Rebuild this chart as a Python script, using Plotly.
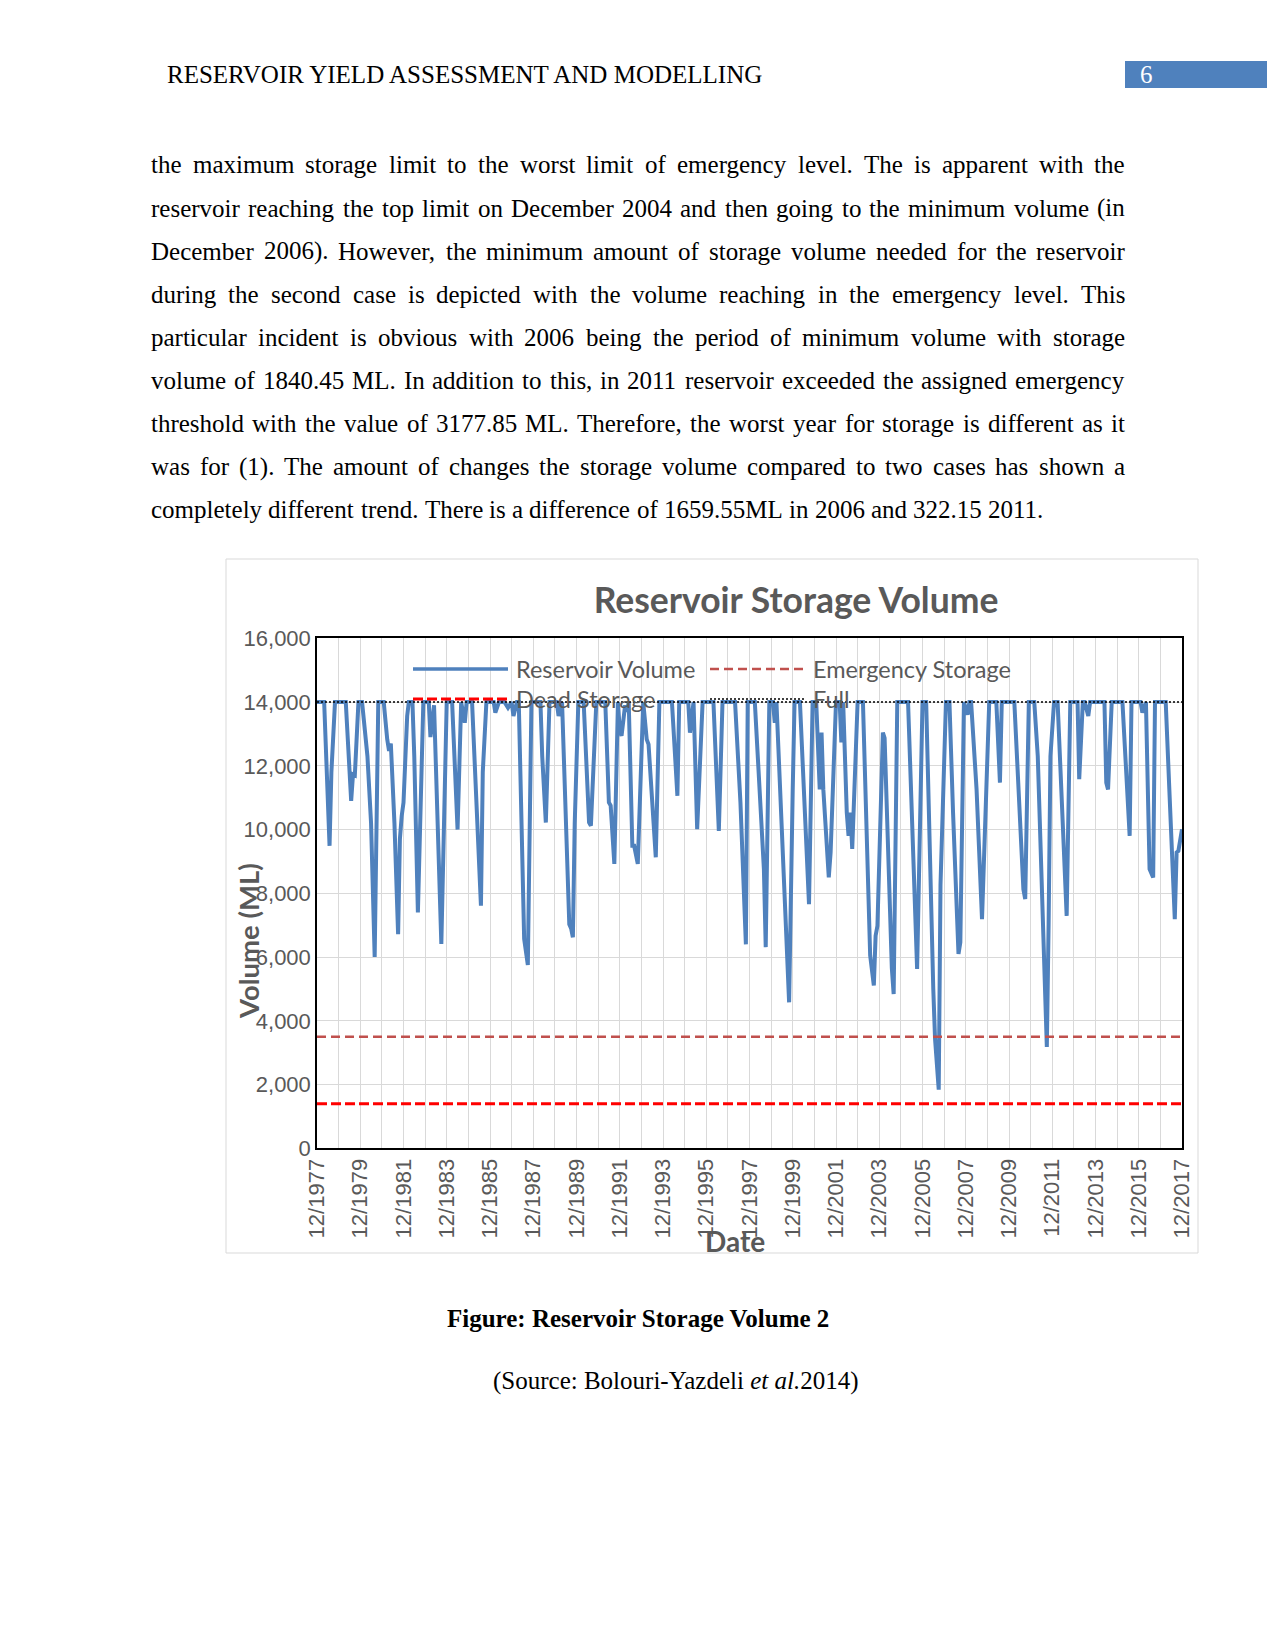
import plotly.graph_objects as go

# page is 1275x1650; the html body adds an 8px margin, so the figure is drawn
# 16px smaller and every position below is given in page pixels
PAGE_W, PAGE_H = 1275, 1650
OFF = 8
W, H = PAGE_W - 2 * OFF, PAGE_H - 2 * OFF

# Reservoir volume (ML), turning points
dates = [
    "1977-12", "1978-04", "1978-07", "1978-08", "1978-10",
    "1979-04", "1979-07", "1979-08", "1979-09", "1979-11",
    "1980-01", "1980-04", "1980-06", "1980-08", "1980-10",
    "1981-01", "1981-03", "1981-04", "1981-05", "1981-07", "1981-09", "1981-10", "1981-11", "1981-12",
    "1982-02", "1982-03", "1982-05", "1982-06", "1982-08", "1982-11",
    "1983-02", "1983-03", "1983-05", "1983-09", "1983-12",
    "1984-03", "1984-06", "1984-08", "1984-10", "1984-11",
    "1985-02", "1985-07", "1985-08", "1985-10",
    "1986-02", "1986-03", "1986-05", "1986-08", "1986-10", "1986-12",
    "1987-01", "1987-03", "1987-04", "1987-07", "1987-09", "1987-11",
    "1988-04", "1988-05", "1988-07", "1988-09",
    "1989-01", "1989-02", "1989-04", "1989-05", "1989-08", "1989-09", "1989-10", "1989-11",
    "1990-01", "1990-04", "1990-07", "1990-08", "1990-11",
    "1991-04", "1991-06", "1991-07", "1991-09", "1991-11", "1991-12",
    "1992-01", "1992-03", "1992-04", "1992-05", "1992-07", "1992-08", "1992-10",
    "1993-01", "1993-03", "1993-04", "1993-08", "1993-10",
    "1994-05", "1994-08", "1994-09",
    "1995-02", "1995-03", "1995-05", "1995-07", "1995-10",
    "1996-04", "1996-07", "1996-09",
    "1997-04", "1997-07", "1997-10", "1997-11",
    "1998-03", "1998-06", "1998-08", "1998-09", "1998-11",
    "1999-01", "1999-02", "1999-03", "1999-07", "1999-09", "1999-10", "1999-12",
    "2000-01", "2000-04", "2000-09", "2000-11",
    "2001-01", "2001-03", "2001-04", "2001-05", "2001-07", "2001-08", "2001-09", "2001-12",
    "2002-02", "2002-03", "2002-04", "2002-06", "2002-07", "2002-08", "2002-09", "2002-12",
    "2003-03", "2003-05", "2003-07", "2003-09", "2003-10", "2003-11",
    "2004-02", "2004-03", "2004-07", "2004-08", "2004-10",
    "2005-04", "2005-06", "2005-09", "2005-12",
    "2006-02", "2006-06", "2006-07", "2006-09", "2006-10",
    "2007-01", "2007-03", "2007-05", "2007-08", "2007-09", "2007-11",
    "2008-01", "2008-02", "2008-03", "2008-06", "2008-09",
    "2009-01", "2009-05", "2009-07", "2009-08",
    "2010-03", "2010-08", "2010-09", "2010-11",
    "2011-02", "2011-04", "2011-07", "2011-09", "2011-10", "2011-11",
    "2012-01", "2012-03", "2012-08", "2012-10",
    "2013-02", "2013-03", "2013-05", "2013-06", "2013-08", "2013-09",
    "2014-05", "2014-06", "2014-07", "2014-09",
    "2015-03", "2015-07", "2015-08",
    "2016-01", "2016-02", "2016-04", "2016-06", "2016-08", "2016-09",
    "2017-03", "2017-05", "2017-08", "2017-09", "2017-10", "2017-12",
]
volume = [
    14000, 14000, 9490, 11800, 14000,
    14000, 10900, 11730, 11700, 14000,
    14000, 12300, 10200, 6000, 14000,
    14000, 12830, 12470, 12700, 10200, 6720, 9700, 10430, 10850,
    13560, 14000, 14000, 12300, 7400, 14000,
    14000, 12900, 13900, 6410, 14000,
    14000, 10000, 14000, 13350, 14000,
    14000, 7610, 11800, 14000,
    14000, 13670, 14000, 14000, 13820, 14000,
    13560, 14000, 14000, 6570, 5750, 14000,
    14000, 12300, 10220, 14000,
    14000, 13560, 14000, 12300, 7030, 6900, 6620, 10200,
    14000, 14000, 10220, 10120, 14000,
    14000, 10850, 10750, 8920, 14000, 13140,
    12940, 13900, 13700, 14000, 9490, 9490, 8920,
    14000, 12830, 12670, 9130, 14000,
    14000, 11060, 14000,
    14000, 13040, 14000, 10010, 14000,
    14000, 9960, 14000,
    14000, 10850, 6400, 14000,
    14000, 10850, 8760, 6310, 14000,
    14000, 13350, 14000, 8260, 5650, 4580, 11260,
    14000, 14000, 7660, 14000,
    14000, 11260, 13040, 11260, 9170, 8500, 9280, 14000,
    14000, 12730, 14000, 10530, 9800, 10530, 9390, 14000,
    14000, 10220, 6050, 5110, 6670, 6980,
    13040, 12870, 5650, 4840, 14000,
    14000, 10530, 5630, 14000,
    14000, 5000, 3430, 1840, 8260,
    14000, 14000, 10530, 6100, 6460, 14000,
    13600, 14000, 14000, 11260, 7190,
    14000, 14000, 11470, 14000,
    14000, 8130, 7820, 14000,
    14000, 12300, 7030, 3180, 7030, 12300,
    14000, 14000, 7290, 14000,
    14000, 11580, 14000, 14000, 13560, 14000,
    14000, 11470, 11260, 14000,
    14000, 9800, 14000,
    14000, 13670, 14000, 8760, 8500, 14000,
    14000, 11260, 7190, 9280, 9330, 10010,
]

level_dates = ["1977-12-01", "2017-12-01"]
emergency_storage = [3500, 3500]
dead_storage = [1400, 1400]
full_storage = [14000, 14000]

series_names = ["Reservoir Volume", "Emergency Storage", "Dead Storage", "Full"]
series_colors = ["#4f81bd", "#c0504d", "#ff0000", "black"]
series_widths = [4, 2.5, 3, 1.5]
series_dashes = ["solid", "9px,5px", "10px,4px", "2px,2px"]

body_lines = [
    "the maximum storage limit to the worst limit of emergency level. The is apparent with the",
    "reservoir reaching the top limit on December 2004 and then going to the minimum volume (in",
    "December 2006). However, the minimum amount of storage volume needed for the reservoir",
    "during the second case is depicted with the volume reaching in the emergency level. This",
    "particular incident is obvious with 2006 being the period of minimum volume with storage",
    "volume of 1840.45 ML. In addition to this, in 2011 reservoir exceeded the assigned emergency",
    "threshold with the value of 3177.85 ML. Therefore, the worst year for storage is different as it",
    "was for (1). The amount of changes the storage volume compared to two cases has shown a",
    "completely different trend. There is a difference of 1659.55ML in 2006 and 322.15 2011.",
]

# Times New Roman advance widths (per 1000 em), used to justify the paragraph
TIMES = {' ': 250, ',': 250, '.': 250, '(': 333, ')': 333, '-': 333, '/': 278, ':': 278}
TIMES.update({d: 500 for d in '0123456789'})
TIMES.update(dict(zip('abcdefghijklmnopqrstuvwxyz',
                      [444, 500, 444, 500, 444, 333, 500, 500, 278, 278, 500, 278, 778,
                       500, 500, 500, 500, 333, 389, 278, 500, 500, 722, 500, 500, 444])))
TIMES.update(dict(zip('ABCDEFGHIJKLMNOPQRSTUVWXYZ',
                      [722, 667, 667, 722, 611, 556, 722, 722, 333, 389, 722, 611, 889,
                       722, 722, 556, 722, 667, 556, 611, 722, 722, 944, 722, 722, 611])))

SERIF = "Liberation Serif, Times New Roman, serif"
GREY = "#595959"


def px(x, y):
    return (x - OFF) / W, 1 - (y - OFF) / H


def text_width(s, size):
    return sum(TIMES.get(c, 500) for c in s) * size / 1000


annotations = []
shapes = []


def add_text(text, x, y, size=25, anchor='left', color='black', family=SERIF, weight='normal', angle=0):
    ax, ay = px(x, y)
    annotations.append(dict(text=text, x=ax, y=ay, xref='paper', yref='paper',
                            xanchor=anchor, yanchor='middle', showarrow=False, textangle=angle,
                            font=dict(family=family, size=size, color=color, weight=weight)))


def add_line(line, y, justify=True, left=150, right=1124, size=25):
    words = line.split()
    widths = [text_width(w, size) for w in words]
    if justify and len(words) > 1:
        gap = (right - left - sum(widths)) / (len(words) - 1)
    else:
        gap = TIMES[' '] * size / 1000
    x = left
    for w, wd in zip(words, widths):
        add_text(w, x - 1, y, size=size)
        x += wd + gap


def add_rect(xa, ya, xb, yb, **kw):
    a, b = px(xa, ya), px(xb, yb)
    shapes.append(dict(type='rect', xref='paper', yref='paper', x0=a[0], x1=b[0],
                       y0=b[1], y1=a[1], layer='below', **kw))


# page header
add_rect(1125, 61, 1275, 88, fillcolor='#4f81bd', line=dict(width=0))
add_text("RESERVOIR YIELD ASSESSMENT AND MODELLING", 165, 74)
add_text("6", 1146, 74, anchor='center', color='white')

for i, line in enumerate(body_lines):
    add_line(line, 165 + i * 43.1, justify=(i < len(body_lines) - 1))

add_text("Figure: Reservoir Storage Volume 2", 638, 1318, anchor='center', weight='bold')
add_text("(Source: Bolouri-Yazdeli <i>et al.</i>2014)", 675, 1381, anchor='center')

# chart frame and texts
add_rect(226, 559, 1198, 1253, line=dict(color='#d9d9d9', width=1))
add_text("Volume (ML)", 249, 941, size=27.5, anchor='center', color=GREY,
         family="Lato", weight='bold', angle=-90)
add_text("Date", 735, 1241, size=28, anchor='center', color=GREY, family="Lato", weight='bold')

# legend, drawn inside the plot area in two columns like the original
legend_pos = [(413, 669), (710, 669), (413, 699), (710, 699)]
for name, color, width, dash, (lx, ly) in zip(series_names, series_colors, series_widths,
                                               series_dashes, legend_pos):
    a, b = px(lx, ly), px(lx + 95, ly)
    shapes.append(dict(type='line', xref='paper', yref='paper', x0=a[0], x1=b[0], y0=a[1], y1=b[1],
                       line=dict(color=color, width=min(width, 3.5), dash=dash)))
    add_text(name, lx + 101, ly, size=23.5, color=GREY, family="Lato")

fig = go.Figure()
fig.add_trace(go.Scatter(x=dates, y=volume, mode='lines', name=series_names[0],
                         line=dict(color=series_colors[0], width=series_widths[0])))
for name, vals, color, width, dash in zip(series_names[1:], [emergency_storage, dead_storage, full_storage],
                                          series_colors[1:], series_widths[1:], series_dashes[1:]):
    fig.add_trace(go.Scatter(x=level_dates, y=vals, mode='lines', name=name,
                             line=dict(color=color, width=width, dash=dash)))

x0, x1 = px(317, 0)[0], px(1182, 0)[0]
y0, y1 = px(0, 1148.3)[1], px(0, 638.3)[1]
tx, ty = px(796, 601)

fig.update_layout(
    width=W, height=H,
    margin=dict(l=0, r=0, t=0, b=0),
    paper_bgcolor='white', plot_bgcolor='white',
    showlegend=False,
    title=dict(text='Reservoir Storage Volume', x=tx, y=ty, xref='paper', yref='paper',
               xanchor='center', yanchor='middle',
               font=dict(family='Lato', size=35.5, color=GREY, weight='bold')),
    xaxis=dict(domain=[x0, x1], type='date', range=level_dates,
               tick0='1977-12-01', dtick='M24', tickformat='%m/%Y', tickangle=-90,
               tickfont=dict(family='Liberation Sans', size=22, color=GREY),
               showgrid=True, gridcolor='#d9d9d9', gridwidth=1,
               minor=dict(tick0='1977-12-01', dtick='M12', showgrid=True, gridcolor='#d9d9d9'),
               showline=True, linecolor='black', linewidth=1.5, mirror=True,
               ticks='', zeroline=False, automargin=False),
    yaxis=dict(domain=[y0, y1], range=[0, 16000], dtick=2000, tickformat=',',
               tickfont=dict(family='Liberation Sans', size=22, color=GREY),
               showgrid=True, gridcolor='#d9d9d9', gridwidth=1,
               showline=True, linecolor='black', linewidth=1.5, mirror=True,
               ticks='', zeroline=False, automargin=False),
    annotations=annotations,
    shapes=shapes,
)

fig.write_html("out.html")
